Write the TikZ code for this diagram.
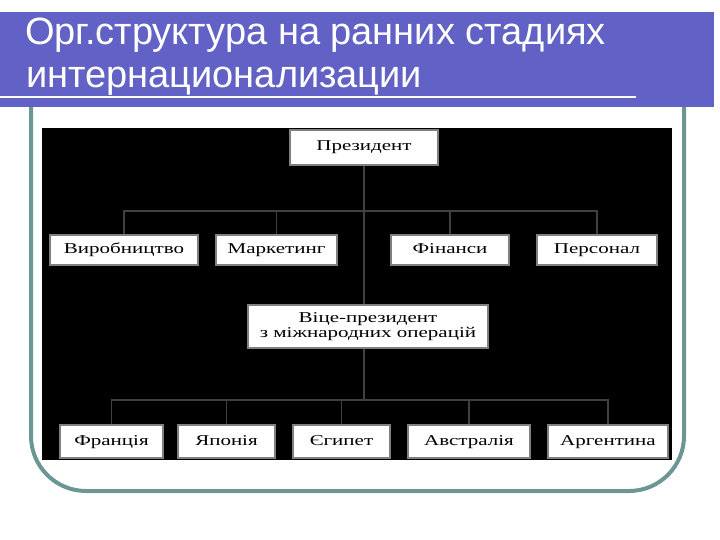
\documentclass[tikz,border=0pt]{standalone}
\usepackage{fontspec}
\newfontfamily\titlefont{Liberation Sans}
\newfontfamily\boxfont[FakeStretch=1.4]{Liberation Serif}
\usepackage{tikz}
\usetikzlibrary{positioning}
\definecolor{titlebar}{RGB}{98,98,198}
\definecolor{framecol}{RGB}{108,150,148}
\definecolor{boxedge}{RGB}{128,128,128}
\definecolor{linkcol}{RGB}{64,64,64}

\begin{document}
\begin{tikzpicture}[
  x=1pt, y=-1pt,
  orgbox/.style={draw=boxedge, line width=2pt, fill=white, inner sep=0pt,
    font=\boxfont\fontsize{15}{12}\selectfont, align=center},
  unitbox/.style={orgbox, text height=10pt, text depth=3pt},
  link/.style={draw=linkcol, line width=1.5pt},
  titleline/.style={anchor=base west, inner sep=0pt, text=white,
    font=\titlefont\fontsize{38}{43}\selectfont}
]
\useasboundingbox (0,0) rectangle (720,540);
% Slide frame
\draw[framecol, line width=4pt, rounded corners=55pt]
  (31,100) -- (31,491) -- (684,491) -- (684,100);

% Title bar
\fill[titlebar] (0,12) rectangle (714,107);
\draw[white, line width=2pt] (0,97) -- (636,97);
\node[titleline] (title1) at (25,45) {Орг.структура на ранних стадиях};
\node[titleline] (title2) at (26,88) {интернационализации};

% Chart background
\fill[black] (42,128) rectangle (672,460);

% Top level
\node[unitbox, minimum width=148, minimum height=35] (pres) at (364,147.5) {Президент};
\node[unitbox, minimum width=148, minimum height=30] (vyr) at (124,250) {Виробництво};
\node[unitbox, minimum width=121, minimum height=30] (mark) at (276.5,250) {Маркетинг};
\node[unitbox, minimum width=118, minimum height=30] (fin) at (450,250) {Фінанси};
\node[unitbox, minimum width=120, minimum height=30] (pers) at (597,250) {Персонал};

% International division
\node[orgbox, minimum width=240, minimum height=43] (vp) at (368,326.5)
  {Віце-президент\\з міжнародних операцій};
\node[unitbox, minimum width=103, minimum height=33] (fra) at (111.5,441.5) {Франція};
\node[unitbox, minimum width=97, minimum height=33] (jap) at (226.5,441.5) {Японія};
\node[unitbox, minimum width=97, minimum height=33] (egy) at (341.5,441.5) {Єгипет};
\node[unitbox, minimum width=122, minimum height=33] (aus) at (469,441.5) {Австралія};
\node[unitbox, minimum width=120, minimum height=33] (arg) at (608,441.5) {Аргентина};

% Connectors
\coordinate (topbus) at (364,211);
\coordinate (lowbus) at (364,400);
\draw[link] (pres.south) -- (pres.south |- vp.north);
\foreach \n in {vyr,mark,fin,pers}
  \draw[link] (\n.north) |- (topbus);
\draw[link] (pres.south |- vp.south) -- (lowbus);
\foreach \n in {fra,jap,egy,aus,arg}
  \draw[link] (\n.north) |- (lowbus);
\end{tikzpicture}
\end{document}
